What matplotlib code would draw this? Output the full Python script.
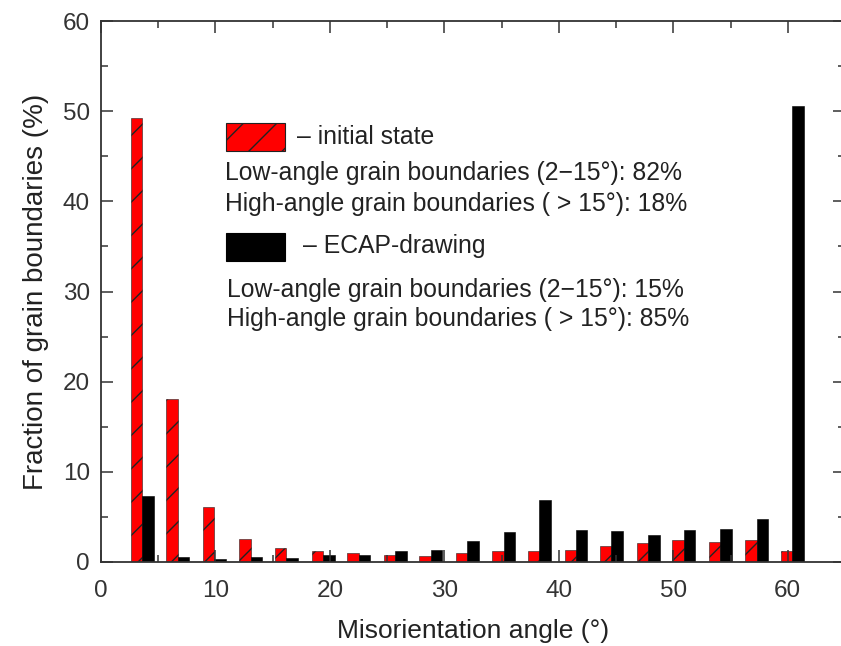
import matplotlib
matplotlib.use("Agg")
import matplotlib.pyplot as plt
from matplotlib.patches import Rectangle

plt.rcParams['font.family'] = ['Liberation Sans', 'DejaVu Sans']

# bin centres (degrees), 19 bins of ~3.16 deg from 2 to 62
angles = [3.6, 6.7, 9.9, 13.1, 16.2, 19.4, 22.5, 25.7, 28.8, 32.0,
          35.2, 38.3, 41.5, 44.6, 47.8, 50.9, 54.1, 57.3, 60.4]
initial = [49.2, 18.1, 6.1, 2.6, 1.6, 1.2, 0.95, 0.8, 0.7, 1.0,
           1.2, 1.2, 1.3, 1.8, 2.1, 2.4, 2.2, 2.4, 1.2]
ecap = [7.3, 0.6, 0.35, 0.5, 0.45, 0.8, 0.8, 1.2, 1.3, 2.3,
        3.3, 6.9, 3.5, 3.4, 3.0, 3.5, 3.65, 4.8, 50.6]

W, H = 841, 646
fig = plt.figure(figsize=(W / 100, H / 100), dpi=100)
ax = fig.add_axes([101 / W, (H - 562) / H, (845 - 101) / W, (562 - 21) / H])

txt = '#222222'
bw = 1.0
ax.bar([a - bw / 2 for a in angles], initial, width=bw, color='red',
       edgecolor='#222222', linewidth=0.4, hatch='/')
ax.bar([a + bw / 2 for a in angles], ecap, width=bw, color='black',
       edgecolor='black', linewidth=0.4)

ax.set_xlim(0, 65)
ax.set_ylim(0, 60)
ax.set_xticks([0, 10, 20, 30, 40, 50, 60])
ax.set_xticks(range(5, 65, 10), minor=True)
ax.set_yticks(range(0, 61, 10))
ax.set_yticks(range(5, 60, 10), minor=True)
ax.tick_params(which='both', direction='in', top=True, right=True,
               labelsize=17.5, labelcolor='#333333', color='#333333')
ax.tick_params(which='major', length=8.5, width=1.1)
ax.tick_params(which='minor', length=5, width=1.1)
ax.tick_params(axis='x', pad=13)
ax.tick_params(axis='y', pad=8)
for s in ax.spines.values():
    s.set_linewidth(1.3)
    s.set_color('#333333')

ax.set_xlabel('Misorientation angle (°)', fontsize=19, color=txt, labelpad=12)
ax.set_ylabel('Fraction of grain boundaries (%)', fontsize=20, color=txt, labelpad=10)

def fx(px):
    return px / W

def fy(py):
    return (H - py) / H

# legend-like annotation block
fig.patches.append(Rectangle((fx(226), fy(151)), 59 / W, 28 / H, transform=fig.transFigure,
                             facecolor='red', edgecolor='#222222', linewidth=0.8, hatch='/'))
fig.patches.append(Rectangle((fx(226), fy(261)), 59 / W, 28 / H, transform=fig.transFigure,
                             facecolor='black', edgecolor='black', linewidth=0.8))

fs = 17.8
fig.text(fx(297), fy(137), '– initial state', fontsize=fs, color=txt, va='center')
fig.text(fx(225), fy(173), 'Low-angle grain boundaries (2\u221215°): 82%', fontsize=fs, color=txt, va='center')
fig.text(fx(225), fy(204), 'High-angle grain boundaries ( > 15°): 18%', fontsize=fs, color=txt, va='center')
fig.text(fx(303), fy(246), '– ECAP-drawing', fontsize=fs, color=txt, va='center')
fig.text(fx(227), fy(290), 'Low-angle grain boundaries (2\u221215°): 15%', fontsize=fs, color=txt, va='center')
fig.text(fx(227), fy(319), 'High-angle grain boundaries ( > 15°): 85%', fontsize=fs, color=txt, va='center')

fig.savefig('out.png', dpi=100)
